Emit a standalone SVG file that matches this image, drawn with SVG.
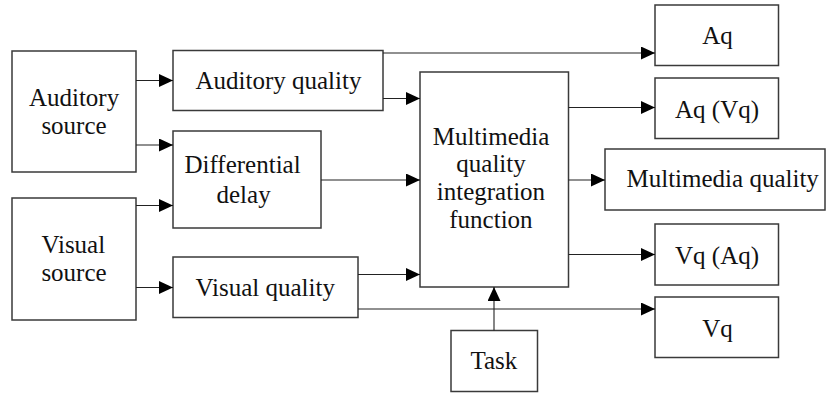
<svg xmlns="http://www.w3.org/2000/svg" width="829" height="396" viewBox="0 0 829 396">
<defs>
<marker id="arr" markerUnits="userSpaceOnUse" markerWidth="14" markerHeight="13" refX="14" refY="6.5" orient="auto">
<path d="M0,0 L14,6.5 L0,13 Z" fill="#000"/>
</marker>
</defs>
<rect width="829" height="396" fill="#fff"/>
<g id="boxes" fill="#fff" stroke="#3a3a3a" stroke-width="1.5">
<rect x="12" y="51" width="124" height="121"/>
<rect x="12" y="198" width="124" height="122"/>
<rect x="173" y="50.5" width="210" height="60"/>
<rect x="173" y="131" width="148" height="97"/>
<rect x="173" y="257" width="185" height="60.5"/>
<rect x="420" y="72" width="148.5" height="215"/>
<rect x="451" y="330.5" width="86.5" height="61"/>
<rect x="655" y="5" width="123.5" height="60.5"/>
<rect x="655" y="78" width="123.5" height="60.5"/>
<rect x="605" y="149" width="220" height="61"/>
<rect x="655" y="224" width="123.5" height="61"/>
<rect x="655" y="297" width="123.5" height="60.5"/>
</g>
<g id="auditory-source"><text x="28.9" y="106" font-size="25" font-family="Liberation Serif" fill="#111">Auditory</text><text x="41.4" y="133.5" font-size="25" font-family="Liberation Serif" fill="#111">source</text></g>
<g id="visual-source"><text x="41.4" y="253" font-size="25" font-family="Liberation Serif" fill="#111">Visual</text><text x="41.4" y="280.5" font-size="25" font-family="Liberation Serif" fill="#111">source</text></g>
<g id="auditory-quality"><text x="195.5" y="89" font-size="25" font-family="Liberation Serif" fill="#111">Auditory quality</text></g>
<g id="differential-delay"><text x="184.5" y="173" font-size="25" font-family="Liberation Serif" fill="#111">Differential</text><text x="216.5" y="202.5" font-size="25" font-family="Liberation Serif" fill="#111">delay</text></g>
<g id="visual-quality"><text x="195.5" y="296" font-size="25" font-family="Liberation Serif" fill="#111">Visual quality</text></g>
<g id="integration"><text x="432.7" y="145" font-size="25" font-family="Liberation Serif" fill="#111">Multimedia</text><text x="456.3" y="172" font-size="25" font-family="Liberation Serif" fill="#111">quality</text><text x="436.8" y="200" font-size="25" font-family="Liberation Serif" fill="#111">integration</text><text x="449.3" y="228" font-size="25" font-family="Liberation Serif" fill="#111">function</text></g>
<g id="task"><text x="470.5" y="368.5" font-size="25" font-family="Liberation Serif" fill="#111">Task</text></g>
<g id="aq"><text x="702.2" y="43.5" font-size="25" font-family="Liberation Serif" fill="#111">Aq</text></g>
<g id="aq-vq"><text x="675" y="117.5" font-size="25" font-family="Liberation Serif" fill="#111">Aq (Vq)</text></g>
<g id="multimedia-quality"><text x="626.5" y="187" font-size="25" font-family="Liberation Serif" fill="#111">Multimedia quality</text></g>
<g id="vq-aq"><text x="675" y="263.5" font-size="25" font-family="Liberation Serif" fill="#111">Vq (Aq)</text></g>
<g id="vq"><text x="702.2" y="337" font-size="25" font-family="Liberation Serif" fill="#111">Vq</text></g>
<g id="connectors" stroke="#222" stroke-width="1.1" fill="none" marker-end="url(#arr)">
<line x1="136" y1="80.5" x2="173" y2="80.5"/>
<line x1="136" y1="145" x2="173" y2="145"/>
<line x1="136" y1="205.5" x2="173" y2="205.5"/>
<line x1="136" y1="287.5" x2="173" y2="287.5"/>
<line x1="383" y1="53" x2="655" y2="53"/>
<line x1="383" y1="98.5" x2="420" y2="98.5"/>
<line x1="321" y1="180" x2="420" y2="180"/>
<line x1="358" y1="274.5" x2="420" y2="274.5"/>
<line x1="358" y1="309" x2="655" y2="309"/>
<line x1="568.5" y1="107.5" x2="655" y2="107.5"/>
<line x1="568.5" y1="180" x2="605" y2="180"/>
<line x1="568.5" y1="254.5" x2="655" y2="254.5"/>
<line x1="494" y1="330.5" x2="494" y2="287"/>
</g>
</svg>
